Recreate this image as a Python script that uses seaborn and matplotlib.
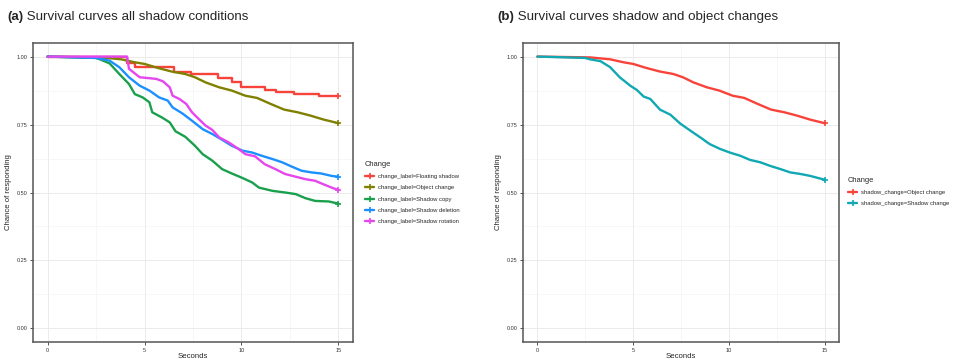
import matplotlib
matplotlib.use("Agg")
import matplotlib.pyplot as plt
from matplotlib.lines import Line2D
from matplotlib.ticker import MultipleLocator
import seaborn as sns
import pandas as pd

# ---------------- data ----------------
float_t = [0, 4.1, 4.5, 6.5, 7.4, 8.8, 9.5, 10.0, 11.2, 11.8, 12.7, 14.0, 15]
float_s = [1, 0.975, 0.963, 0.945, 0.936, 0.92, 0.905, 0.887, 0.878, 0.871, 0.862, 0.854, 0.854]

obj_t = [0, 2.75, 3.8, 4.5, 5.0, 5.7, 6.4, 7.1, 7.6, 8.15, 8.85, 9.5, 10.2, 10.8,
         11.5, 12.2, 12.9, 13.55, 14.25, 15]
obj_s = [1, 0.997, 0.99, 0.979, 0.973, 0.958, 0.945, 0.936, 0.924, 0.905, 0.887,
         0.875, 0.856, 0.848, 0.826, 0.805, 0.795, 0.783, 0.768, 0.755]

copy_t = [0, 2.5, 2.7, 3.2, 3.7, 4.2, 4.5, 4.9, 5.25, 5.4, 5.9, 6.3, 6.6, 7.1, 7.6,
          8.0, 8.5, 9.0, 9.5, 10.0, 10.55, 10.9, 11.6, 12.25, 12.8, 13.3, 13.8, 14.5, 15]
copy_s = [1, 0.995, 0.99, 0.975, 0.936, 0.899, 0.862, 0.85, 0.832, 0.795, 0.776,
          0.758, 0.725, 0.705, 0.672, 0.641, 0.617, 0.586, 0.57, 0.555, 0.537, 0.518,
          0.506, 0.5, 0.494, 0.479, 0.469, 0.467, 0.459]

del_t = [0, 2.5, 3.2, 3.7, 4.2, 4.75, 5.25, 5.75, 6.2, 6.45, 6.95, 7.45, 8.0, 8.5,
         9.0, 9.5, 10.05, 10.55, 11.05, 11.6, 12.1, 12.6, 13.1, 13.6, 14.1, 14.65, 15]
del_s = [1, 0.995, 0.985, 0.961, 0.924, 0.893, 0.875, 0.85, 0.838, 0.813, 0.791,
         0.764, 0.733, 0.715, 0.694, 0.672, 0.654, 0.647, 0.635, 0.623, 0.611, 0.595,
         0.58, 0.574, 0.57, 0.561, 0.558]

rot_t = [0, 4.1, 4.2, 4.75, 5.6, 5.95, 6.3, 6.45, 6.8, 7.15, 7.45, 7.8, 8.15, 8.5,
         8.85, 9.35, 9.85, 10.2, 10.7, 11.2, 11.75, 12.25, 12.8, 13.3, 13.8, 14.3, 14.65, 15]
rot_s = [1, 1.0, 0.955, 0.924, 0.918, 0.909, 0.887, 0.856, 0.844, 0.826, 0.795,
         0.77, 0.746, 0.73, 0.703, 0.684, 0.66, 0.641, 0.633, 0.604, 0.586, 0.568,
         0.558, 0.549, 0.543, 0.528, 0.518, 0.509]

shch_t = [0, 2.5, 2.75, 3.3, 3.8, 4.3, 4.85, 5.2, 5.55, 5.9, 6.4, 6.95, 7.45, 8.0,
          8.5, 9.0, 9.55, 10.05, 10.6, 11.1, 11.65, 12.15, 12.7, 13.2, 13.75, 14.25, 15]
shch_s = [1, 0.995, 0.99, 0.983, 0.961, 0.924, 0.893, 0.877, 0.853, 0.844, 0.805,
          0.786, 0.754, 0.727, 0.703, 0.678, 0.66, 0.647, 0.635, 0.62, 0.611, 0.598,
          0.586, 0.574, 0.568, 0.561, 0.547]

labels_a = ["change_label=Floating shadow", "change_label=Object change",
            "change_label=Shadow copy", "change_label=Shadow deletion",
            "change_label=Shadow rotation"]
colors_a = ["#F8433B", "#808000", "#1AA04C", "#1C90FF", "#E546EE"]
series_a = [(float_t, float_s), (obj_t, obj_s), (copy_t, copy_s),
            (del_t, del_s), (rot_t, rot_s)]
stepped_a = [True, False, False, False, False]

labels_b = ["shadow_change=Object change", "shadow_change=Shadow change"]
colors_b = ["#F8433B", "#10A8B2"]
series_b = [(obj_t, obj_s), (shch_t, shch_s)]
stepped_b = [False, False]

x_ticks = [0, 5, 10, 15]
y_ticks = [0.0, 0.25, 0.5, 0.75, 1.0]

# ---------------- style ----------------
sns.set_theme(style="white")
plt.rcParams["font.family"] = ["Liberation Sans", "DejaVu Sans"]

fig = plt.figure(figsize=(9.54, 3.59), dpi=100)
W, H = 954, 359


def px_axes(l, t, r, b):
    return fig.add_axes([l / W, 1 - b / H, (r - l) / W, (b - t) / H])


ax_a = px_axes(33, 43, 353, 342)
ax_b = px_axes(523, 43, 839, 342)


def draw_panel(ax, series, labels, colors, stepped):
    for (t, s), lab, c, st in zip(series, labels, colors, stepped):
        df = pd.DataFrame({"t": t, "s": s})
        sns.lineplot(data=df, x="t", y="s", color=c, estimator=None, sort=False,
                     drawstyle="steps-post" if st else "default", lw=1.7, ax=ax,
                     legend=False)
        ax.plot(t[-1:], s[-1:], marker="+", ms=5, mew=1.2, color=c, ls="none")
    ax.set_xlim(-0.75, 15.75)
    ax.set_ylim(-0.05, 1.05)
    ax.set_xticks(x_ticks)
    ax.set_yticks(y_ticks)
    ax.set_yticklabels([f"{v:.2f}" for v in y_ticks])
    ax.xaxis.set_minor_locator(MultipleLocator(2.5))
    ax.yaxis.set_minor_locator(MultipleLocator(0.125))
    ax.grid(True, which="major", color="#EBEBEB", lw=0.7)
    ax.grid(True, which="minor", color="#F2F2F2", lw=0.4)
    ax.set_axisbelow(True)
    for sp in ax.spines.values():
        sp.set_color("#555555")
        sp.set_linewidth(1.1)
    ax.tick_params(axis="both", which="major", length=2.5, width=0.6,
                   color="#333333", labelsize=4.0, labelcolor="#333333", pad=1.5,
                   bottom=True, left=True)
    ax.tick_params(which="minor", length=0)
    ax.set_xlabel("Seconds", fontsize=5.6, labelpad=0.5)
    ax.set_ylabel("Chance of responding", fontsize=5.6, labelpad=3)
    handles = [Line2D([], [], color=c, lw=1.7, marker="+", ms=5, mew=1.2)
               for c in colors]
    return handles


h_a = draw_panel(ax_a, series_a, labels_a, colors_a, stepped_a)
h_b = draw_panel(ax_b, series_b, labels_b, colors_b, stepped_b)


def add_legend(handles, labels, x, y):
    leg = fig.legend(handles, labels, title="Change", loc="upper left",
                     bbox_to_anchor=(x / W, 1 - y / H), frameon=False,
                     fontsize=4.2, title_fontsize=5.4, handlelength=1.6,
                     handletextpad=0.6, labelspacing=1.05, borderpad=0,
                     borderaxespad=0)
    leg._legend_box.align = "left"
    return leg


add_legend(h_a, labels_a, 365, 161)
add_legend(h_b, labels_b, 848, 177)

# titles with bold panel letter
fig.canvas.draw()
renderer = fig.canvas.get_renderer()
for letter, rest, x0 in [("(a)", " Survival curves all shadow conditions", 7),
                         ("(b)", " Survival curves shadow and object changes", 497)]:
    t1 = fig.text(x0 / W, 1 - 17 / H, letter, fontsize=9.6, fontweight="bold",
                  va="center", ha="left")
    bb = t1.get_window_extent(renderer)
    fig.text(bb.x1 / W, 1 - 17 / H, rest, fontsize=9.6, va="center", ha="left")

fig.savefig("out.png", dpi=100, facecolor="white")
